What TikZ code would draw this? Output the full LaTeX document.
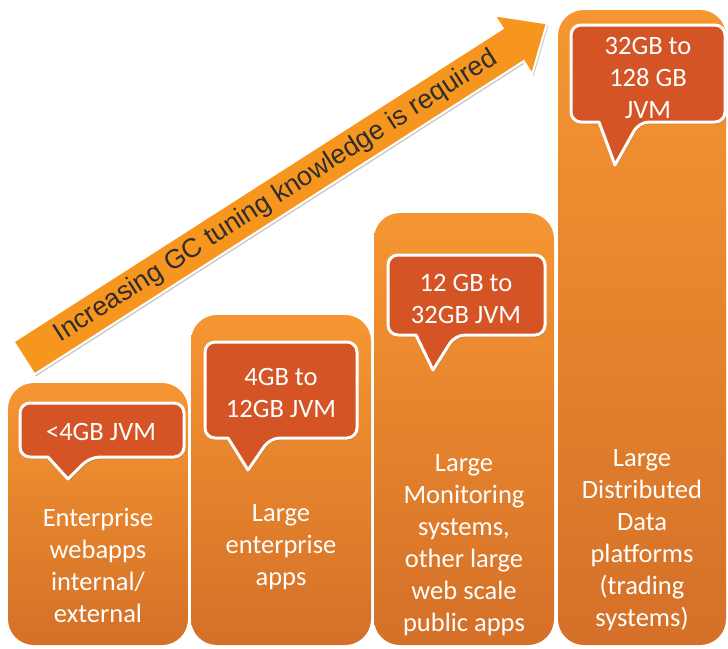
\documentclass[tikz,border=0pt]{standalone}
\usepackage{fontspec}
\setmainfont{Carlito}
\newfontfamily\arialfont{Liberation Sans}
\usetikzlibrary{shadows}

\definecolor{barTop}{RGB}{246,150,50}
\definecolor{barBot}{RGB}{212,112,40}
\definecolor{calloutFill}{RGB}{212,84,38}
\definecolor{arrowFill}{RGB}{247,150,30}
\definecolor{arrowText}{RGB}{45,45,45}

\tikzset{
  bar/.style={rectangle, rounded corners=26pt, top color=barTop, bottom color=barBot,
    draw=none, inner sep=0pt, outer sep=0pt},
  callout/.style={fill=calloutFill, draw=white, line width=3pt, line join=round,
    drop shadow={shadow xshift=1pt, shadow yshift=-2pt, opacity=0.3, fill=black!70}},
  bartext/.style={text=white, align=center, inner sep=0pt, font=\fontsize{26.5}{32}\selectfont},
  calltext/.style={text=white, align=center, inner sep=0pt, font=\fontsize{26.5}{32}\selectfont},
  bigarrow/.style={fill=arrowFill, draw=white, line width=2pt, line join=miter,
    drop shadow={shadow xshift=1.5pt, shadow yshift=-2pt, opacity=0.35, fill=black!60}},
}

\begin{document}
\begin{tikzpicture}[x=1pt,y=-1pt]
\useasboundingbox (0,0) rectangle (728,648);

% the four steps
\node[bar, minimum width=180pt, minimum height=262pt] (bar1) at (98,514) {};
\node[bar, minimum width=180pt, minimum height=330pt] (bar2) at (281,480) {};
\node[bar, minimum width=180pt, minimum height=432pt] (bar3) at (464,429) {};
\node[bar, minimum width=168pt, minimum height=635pt] (bar4) at (642,327.5) {};

% rising arrow
\draw[bigarrow] (13.5,341.6) -- (502.7,28.4) -- (494.3,15.3) -- (546.9,23.3)
  -- (532.1,74.3) -- (523.7,61.2) -- (34.5,374.4) -- cycle;
\node[rotate=32.6, text=arrowText, inner sep=0pt,
  font=\arialfont\fontsize{26.8}{30}\selectfont] (trend) at (276,197)
  {Increasing GC tuning knowledge is required};

% callouts
\draw[callout, rounded corners=10pt] (100,403) -- (184,403) -- (184,457) -- (90,457)
  [sharp corners] -- (68,479) -- (48,457) [rounded corners=10pt] -- (20,457) -- (20,403) -- cycle;
\draw[callout, rounded corners=10pt] (281,342) -- (357,342) -- (357,438) -- (270,438)
  [sharp corners] -- (248,470) -- (228,438) [rounded corners=10pt] -- (205,438) -- (205,342) -- cycle;
\draw[callout, rounded corners=10pt] (466,255) -- (545,255) -- (545,335) -- (455,335)
  [sharp corners] -- (433,370) -- (416,335) [rounded corners=10pt] -- (388,335) -- (388,255) -- cycle;
\draw[callout, rounded corners=10pt] (648,25) -- (725,25) -- (725,122) -- (639,122)
  [sharp corners] -- (615,165) -- (599,122) [rounded corners=10pt] -- (571,122) -- (571,25) -- cycle;

\node[calltext] (c1) at (101,432) {<4GB JVM};
\node[calltext] (c2) at (281,393) {4GB to\\12GB JVM};
\node[calltext] (c3) at (466,298.5) {12 GB to\\32GB JVM};
\node[calltext] (c4) at (648,77.5) {32GB to\\128 GB\\JVM};

% step labels
\node[bartext] (t1) at (98,565.5) {Enterprise\\webapps\\internal/\\external};
\node[bartext] (t2) at (281,547.5) {Large\\enterprise\\apps};
\node[bartext] (t3) at (464,545.5) {Large\\Monitoring\\systems,\\other large\\web scale\\public apps};
\node[bartext] (t4) at (642,540) {Large\\Distributed\\Data\\platforms\\(trading\\systems)};
\end{tikzpicture}
\end{document}
